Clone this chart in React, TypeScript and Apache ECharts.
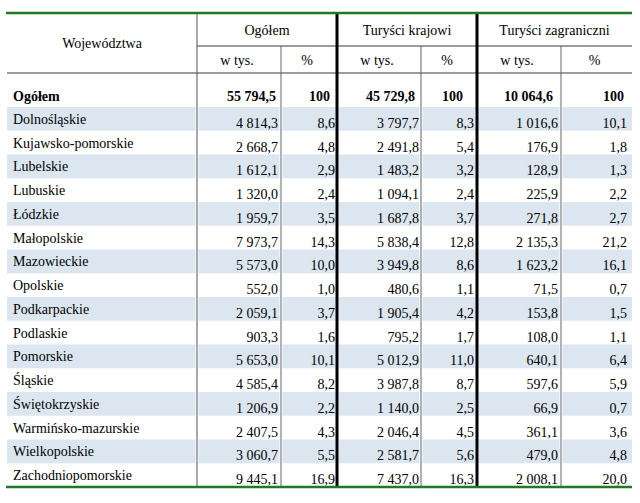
import React, { useEffect, useRef } from "react";
import * as echarts from "echarts";

const regions = [
  "Dolnośląskie",
  "Kujawsko-pomorskie",
  "Lubelskie",
  "Lubuskie",
  "Łódzkie",
  "Małopolskie",
  "Mazowieckie",
  "Opolskie",
  "Podkarpackie",
  "Podlaskie",
  "Pomorskie",
  "Śląskie",
  "Świętokrzyskie",
  "Warmińsko-mazurskie",
  "Wielkopolskie",
  "Zachodniopomorskie",
];
const totalThous = [4814.3, 2668.7, 1612.1, 1320.0, 1959.7, 7973.7, 5573.0, 552.0, 2059.1, 903.3, 5653.0, 4585.4, 1206.9, 2407.5, 3060.7, 9445.1];
const totalPct = [8.6, 4.8, 2.9, 2.4, 3.5, 14.3, 10.0, 1.0, 3.7, 1.6, 10.1, 8.2, 2.2, 4.3, 5.5, 16.9];
const domThous = [3797.7, 2491.8, 1483.2, 1094.1, 1687.8, 5838.4, 3949.8, 480.6, 1905.4, 795.2, 5012.9, 3987.8, 1140.0, 2046.4, 2581.7, 7437.0];
const domPct = [8.3, 5.4, 3.2, 2.4, 3.7, 12.8, 8.6, 1.1, 4.2, 1.7, 11.0, 8.7, 2.5, 4.5, 5.6, 16.3];
const forThous = [1016.6, 176.9, 128.9, 225.9, 271.8, 2135.3, 1623.2, 71.5, 153.8, 108.0, 640.1, 597.6, 66.9, 361.1, 479.0, 2008.1];
const forPct = [10.1, 1.8, 1.3, 2.2, 2.7, 21.2, 16.1, 0.7, 1.5, 1.1, 6.4, 5.9, 0.7, 3.6, 4.8, 20.0];

const rowHeader = "Województwa";
const groupHeaders = ["Ogółem", "Turyści krajowi", "Turyści zagraniczni"];
const subHeaders = ["w tys.", "%", "w tys.", "%", "w tys.", "%"];
const overallLabel = "Ogółem";
const overallThous = [55794.5, 45729.8, 10064.6];
const overallPct = [100, 100, 100];

const fmtThous = (v: number) => {
  const [i, d] = v.toFixed(1).split(".");
  return i.replace(/\B(?=(\d{3})+(?!\d))/g, " ") + "," + d;
};
const fmtPct = (v: number) => v.toFixed(1).replace(".", ",");

// layout
const EDGES = [7, 197, 281, 337, 421, 477, 561, 632];
const TOP = 13;
const H1 = 46;
const H2 = 73;
const BODY_TOP = 107;
const BOTTOM = 487;
const FONT = "Liberation Serif";
const DATA_RIGHT = [278, 335, 419, 474, 558, 627];
const TOTAL_RIGHT = [276, 330, 415, 463, 553, 624];

export default function App() {
  const ref = useRef<HTMLDivElement>(null);
  useEffect(() => {
    document.body.style.margin = "0";
    const chart = echarts.init(ref.current!, null, { renderer: "svg" });

    const txt = (text: string, x: number, y: number, align: string, bold = false, z = 20) => ({
      type: "text",
      x,
      y,
      z,
      silent: true,
      style: {
        text,
        fill: "#000",
        fontFamily: FONT,
        fontSize: 14,
        fontWeight: bold ? "bold" : "normal",
        align,
        verticalAlign: "middle",
      },
    });
    const ln = (x1: number, y1: number, x2: number, y2: number, stroke: string, w: number) => ({
      type: "line",
      z: 30,
      silent: true,
      shape: { x1, y1, x2, y2 },
      style: { stroke, lineWidth: w },
    });

    const graphics: any[] = [];
    graphics.push(txt(rowHeader, (EDGES[0] + EDGES[1]) / 2, 43, "center"));
    groupHeaders.forEach((g, i) => {
      const l = EDGES[1 + i * 2];
      const r = EDGES[3 + i * 2];
      graphics.push(txt(g, (l + r) / 2, 30, "center"));
    });
    subHeaders.forEach((s, i) => {
      graphics.push(txt(s, (EDGES[1 + i] + EDGES[2 + i]) / 2 - 2, 60, "center"));
    });
    graphics.push(txt(overallLabel, 13, 96, "left", true));
    overallThous.forEach((v, i) => {
      graphics.push(txt(fmtThous(v), TOTAL_RIGHT[i * 2], 96, "right", true));
      graphics.push(txt(String(overallPct[i]), TOTAL_RIGHT[i * 2 + 1], 96, "right", true));
    });
    graphics.push(ln(EDGES[1], H1, EDGES[7], H1, "#3a3a3a", 1));
    graphics.push(ln(EDGES[0], H2, EDGES[7], H2, "#3a3a3a", 1));
    graphics.push(ln(EDGES[1], TOP, EDGES[1], BOTTOM, "#555", 1));
    graphics.push(ln(EDGES[2], H1, EDGES[2], BOTTOM, "#666", 1));
    graphics.push(ln(EDGES[3], TOP, EDGES[3], BOTTOM, "#000", 3));
    graphics.push(ln(EDGES[4], H1, EDGES[4], BOTTOM, "#666", 1));
    graphics.push(ln(EDGES[5], TOP, EDGES[5], BOTTOM, "#000", 3));
    graphics.push(ln(EDGES[6], H1, EDGES[6], BOTTOM, "#666", 1));
    graphics.push(ln(6, TOP, 632, TOP, "#1f7a25", 2.5));
    graphics.push(ln(6, BOTTOM, 632, BOTTOM, "#1f7a25", 2.5));

    const cols = [totalThous, totalPct, domThous, domPct, forThous, forPct];

    chart.setOption({
      animation: false,
      grid: { left: 0, right: 0, top: BODY_TOP, bottom: 503 - BOTTOM },
      xAxis: { type: "value", min: 0, max: 640, show: false },
      yAxis: { type: "category", data: regions, inverse: true, show: false },
      graphic: { elements: graphics },
      series: [
        {
          type: "custom",
          silent: true,
          encode: { x: 0, y: 1 },
          data: regions.map((_, i) => [0, i]),
          renderItem: (params: any, api: any) => {
            const idx = api.value(1);
            const cy = api.coord([0, idx])[1];
            const h = api.size([0, 1])[1];
            const X = (px: number) => api.coord([px, idx])[0];
            const children: any[] = [];
            if (idx % 2 === 0) {
              for (let c = 0; c < 7; c++) {
                const l = c === 0 ? X(EDGES[0]) : X(EDGES[c]) + 1.5;
                const r = c === 6 ? X(EDGES[7]) : X(EDGES[c + 1]) - 1.5;
                children.push({
                  type: "rect",
                  shape: { x: l, y: cy - h / 2, width: r - l, height: h },
                  style: { fill: "#dce6f1" },
                });
              }
            }
            children.push({
              type: "text",
              x: X(13),
              y: cy + 0.5,
              style: {
                text: regions[idx],
                fill: "#000",
                fontFamily: FONT,
                fontSize: 14,
                align: "left",
                verticalAlign: "middle",
              },
            });
            cols.forEach((arr, c) => {
              children.push({
                type: "text",
                x: X(DATA_RIGHT[c]),
                y: cy + 4.5,
                style: {
                  text: c % 2 === 0 ? fmtThous(arr[idx]) : fmtPct(arr[idx]),
                  fill: "#000",
                  fontFamily: FONT,
                  fontSize: 14,
                  align: "right",
                  verticalAlign: "middle",
                },
              });
            });
            return { type: "group", children };
          },
        },
      ],
    });
    return () => chart.dispose();
  }, []);
  return <div ref={ref} style={{ width: 640, height: 503 }} />;
}
